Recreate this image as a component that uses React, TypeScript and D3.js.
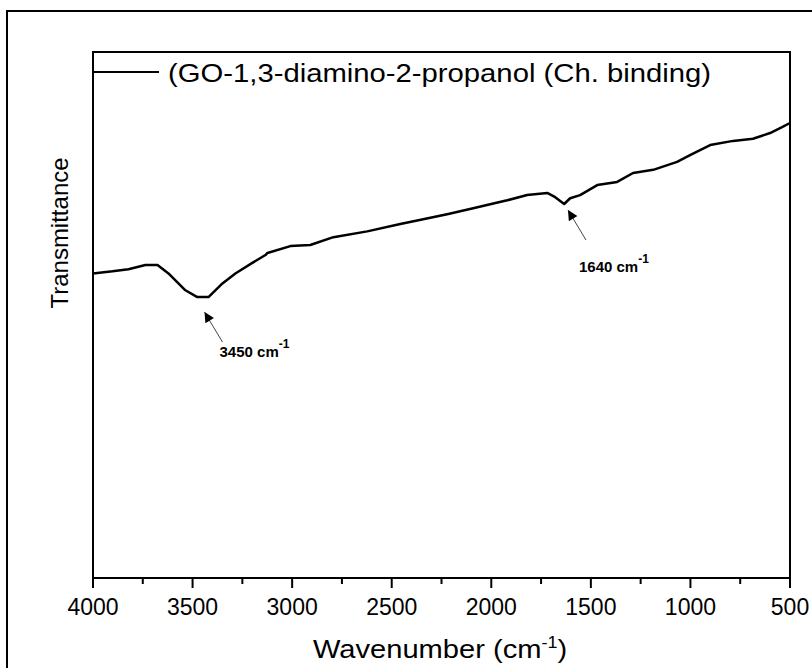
import * as d3 from "d3";

// FTIR spectrum (wavenumber cm-1, transmittance a.u.)
const wavenumbers: number[] = [
  4000, 3902, 3822, 3737, 3676, 3621, 3536, 3476, 3420, 3350, 3285, 3200, 3134,
  3124, 3009, 2909, 2793, 2623, 2457, 2342, 2216, 2091, 1920, 1820, 1719, 1679,
  1634, 1604, 1554, 1468, 1368, 1288, 1187, 1067, 1002, 901, 786, 686, 600, 540, 500,
];
const transmittance: number[] = [
  57.9, 58.3, 58.7, 59.5, 59.5, 57.9, 54.7, 53.4, 53.4, 56.0, 57.9, 59.9, 61.4,
  61.8, 63.1, 63.3, 64.8, 65.9, 67.3, 68.2, 69.2, 70.3, 71.8, 72.8, 73.2, 72.4,
  71.1, 72.2, 72.8, 74.7, 75.3, 77.0, 77.6, 79.1, 80.4, 82.3, 83.1, 83.5, 84.6, 85.7, 86.5,
];
const majorTicks: number[] = [4000, 3500, 3000, 2500, 2000, 1500, 1000, 500];
const minorTicks: number[] = [3750, 3250, 2750, 2250, 1750, 1250, 750];
const seriesName = "(GO-1,3-diamino-2-propanol (Ch. binding)";
const peaks: number[] = [3450, 1640];

// arrow / label placement relative to the dip, per peak
const annot = [
  { tip: [2, 15], tail: [20, 45], label: [17, 60] },
  { tip: [5, 6], tail: [23, 36], label: [16, 68] },
];

const W = 812;
const H = 668;
const margin = { top: 52, left: 93, right: 22, bottom: 90 };
const innerW = W - margin.left - margin.right;
const innerH = H - margin.top - margin.bottom;
const font = "'Liberation Sans', Arial, sans-serif";

export default function App() {
  const x = d3.scaleLinear().domain([4000, 500]).range([0, innerW]);
  const y = d3.scaleLinear().domain([0, 100]).range([innerH, 0]);

  const pts = wavenumbers.map((w, i) => [w, transmittance[i]] as [number, number]);
  const line = d3
    .line<[number, number]>()
    .x((d) => x(d[0]))
    .y((d) => y(d[1]));

  // nearest sample to a peak position
  const valueAt = (w: number) => {
    let best = 0;
    wavenumbers.forEach((v, i) => {
      if (Math.abs(v - w) < Math.abs(wavenumbers[best] - w)) best = i;
    });
    return transmittance[best];
  };

  return (
    <svg width={W} height={H} style={{ position: "absolute", left: 0, top: 0, background: "#fff" }}>
      <defs>
        <marker id="head" viewBox="0 0 10 10" refX="10" refY="5" markerWidth="13" markerHeight="10"
          markerUnits="userSpaceOnUse" orient="auto">
          <path d="M0,0 L10,5 L0,10 z" fill="#000" />
        </marker>
      </defs>
      {/* outer border */}
      <rect x={7} y={11} width={W} height={H} fill="none" stroke="#000" strokeWidth={2} />

      <g transform={`translate(${margin.left},${margin.top})`}>
        {/* frame */}
        <rect x={0} y={0} width={innerW} height={innerH} fill="none" stroke="#000" strokeWidth={2} />

        {/* ticks */}
        {majorTicks.map((t) => (
          <g key={t} transform={`translate(${x(t)},${innerH})`}>
            <line y1={0} y2={10} stroke="#000" strokeWidth={2} />
            <text y={37} textAnchor="middle" fontFamily={font} fontSize={23} fill="#000">
              {t}
            </text>
          </g>
        ))}
        {minorTicks.map((t) => (
          <line key={t} x1={x(t)} x2={x(t)} y1={innerH} y2={innerH + 6} stroke="#000" strokeWidth={2} />
        ))}

        {/* spectrum */}
        <path d={line(pts) ?? ""} fill="none" stroke="#000" strokeWidth={2.5} strokeLinejoin="round" />

        {/* legend */}
        <line x1={0} x2={66} y1={20} y2={20} stroke="#000" strokeWidth={2} />
        <text x={75} y={30} fontFamily={font} fontSize={25} fill="#000" textLength={543}
          lengthAdjust="spacingAndGlyphs">
          {seriesName}
        </text>

        {/* peak annotations */}
        {peaks.map((p, i) => {
          const px = x(p);
          const py = y(valueAt(p));
          const a = annot[i];
          return (
            <g key={p}>
              <line x1={px + a.tail[0]} y1={py + a.tail[1]} x2={px + a.tip[0]} y2={py + a.tip[1]}
                stroke="#444" strokeWidth={1} markerEnd="url(#head)" />
              <text x={px + a.label[0]} y={py + a.label[1]} fontFamily={font} fontSize={15}
                fontWeight="bold" fill="#000">
                {p} cm
                <tspan dy={-9} fontSize={12}>-1</tspan>
              </text>
            </g>
          );
        })}
      </g>

      {/* axis titles */}
      <g transform="translate(440,658) scale(1.12,1)">
        <text textAnchor="middle" fontFamily={font} fontSize={26} fill="#000">
          Wavenumber (cm<tspan dy={-10} fontSize={16}>-1</tspan>
          <tspan dy={10}>)</tspan>
        </text>
      </g>
      <text transform="translate(68,233) rotate(-90)" textAnchor="middle" fontFamily={font} fontSize={24} fill="#000">
        Transmittance
      </text>
    </svg>
  );
}
